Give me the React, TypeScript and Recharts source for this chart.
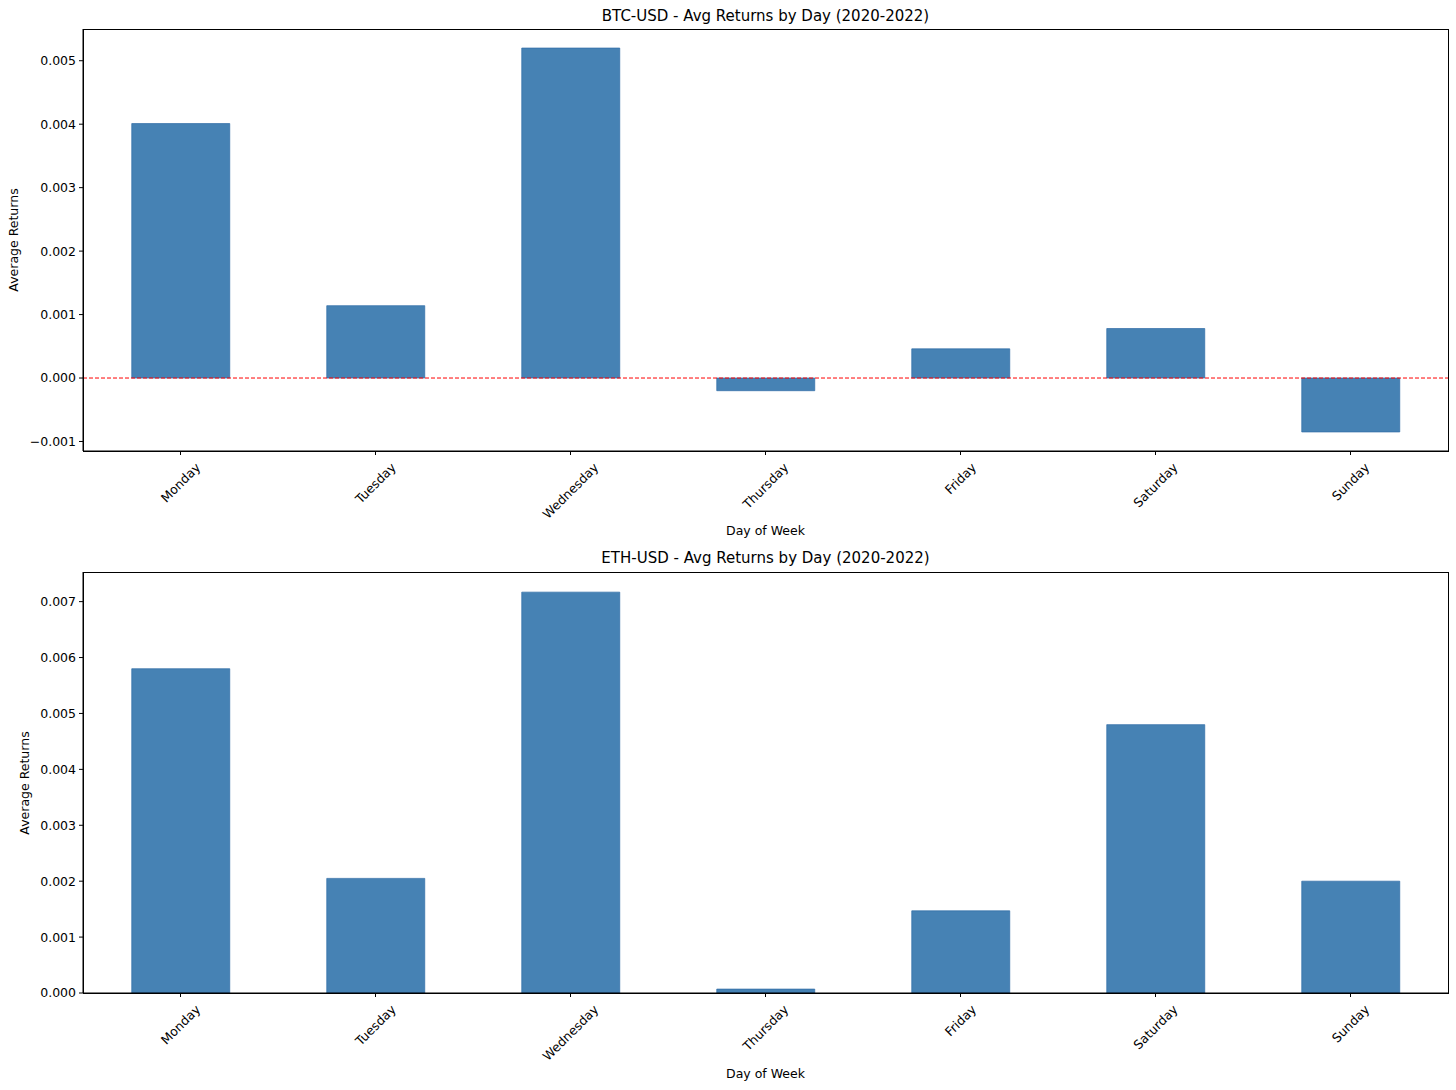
import React from "react";
import { Bar, BarChart, ReferenceLine, XAxis, YAxis } from "recharts";

const days = ["Monday", "Tuesday", "Wednesday", "Thursday", "Friday", "Saturday", "Sunday"];
const btcReturns = [0.00401, 0.00114, 0.0052, -0.0002, 0.00046, 0.00078, -0.00085];
const ethReturns = [0.0058, 0.00205, 0.00717, 0.00007, 0.00147, 0.0048, 0.002];
const btcTicks = [-0.001, 0, 0.001, 0.002, 0.003, 0.004, 0.005];
const ethTicks = [0, 0.001, 0.002, 0.003, 0.004, 0.005, 0.006, 0.007];

const FONT = '"DejaVu Sans", sans-serif';
const TICK_PX = 12.5;
const BAR_FILL = "#4682b4";
const BAR_EDGE = "#2f6ca6";

let ctx: CanvasRenderingContext2D | null = null;
function textWidth(s: string) {
  if (!ctx) ctx = document.createElement("canvas").getContext("2d");
  if (!ctx) return s.length * TICK_PX * 0.6;
  ctx.font = `${TICK_PX}px "DejaVu Sans"`;
  return ctx.measureText(s).width;
}

// matplotlib-like rotation=45, ha="center": bbox centred on the tick
const DayTick = (props: any) => {
  const { x, y, payload } = props;
  const w = textWidth(payload.value);
  const h = TICK_PX * 1.16;
  const cy = y + (w + h) / (2 * Math.SQRT2);
  return (
    <text
      x={x}
      y={cy}
      textAnchor="middle"
      dominantBaseline="central"
      transform={`rotate(-45, ${x}, ${cy})`}
      fontSize={TICK_PX}
      fontFamily={FONT}
      fill="#000"
    >
      {payload.value}
    </text>
  );
};

const fmt = (v: number) => {
  const s = Math.abs(v).toFixed(3);
  return v < -1e-12 ? `\u2212${s}` : s;
};

interface PanelProps {
  values: number[];
  ticks: number[];
  domain: [number, number];
  top: number;
  marginTop: number;
  xAxisHeight: number;
  title: string;
  titleY: number;
  yLabelX: number;
  xLabelY: number;
  zeroLine?: boolean;
}

function Panel({ values, ticks, domain, top, marginTop, xAxisHeight, title, titleY, yLabelX, xLabelY, zeroLine }: PanelProps) {
  const data = days.map((d, i) => ({ day: d, value: values[i] }));
  const height = 545;
  const plotTop = marginTop;
  const plotBottom = height - xAxisHeight;
  const plotLeft = 83;
  const plotRight = 1448;
  const textStyle: React.CSSProperties = {
    position: "absolute",
    fontFamily: FONT,
    color: "#000",
    whiteSpace: "nowrap",
    lineHeight: 1,
  };
  return (
    <div style={{ position: "absolute", left: 0, top, width: 1456, height }}>
      <BarChart
        width={1456}
        height={height}
        data={data}
        margin={{ top: marginTop, right: 1456 - plotRight, bottom: 0, left: 8 }}
        barCategoryGap="25%"
      >
        <XAxis
          dataKey="day"
          height={xAxisHeight}
          interval={0}
          tickSize={4}
          tickMargin={5}
          tick={<DayTick />}
          axisLine={{ stroke: "#000", strokeWidth: 1 }}
          tickLine={{ stroke: "#000", strokeWidth: 1 }}
        />
        <YAxis
          width={plotLeft - 8}
          domain={domain}
          ticks={ticks}
          allowDataOverflow
          interval={0}
          tickFormatter={fmt}
          tickSize={4}
          tickMargin={3}
          tick={{ fontSize: TICK_PX, fontFamily: FONT, fill: "#000" }}
          axisLine={{ stroke: "#000", strokeWidth: 1 }}
          tickLine={{ stroke: "#000", strokeWidth: 1 }}
        />
        <Bar dataKey="value" fill={BAR_FILL} stroke={BAR_EDGE} strokeWidth={0.7} isAnimationActive={false} />
        {zeroLine && <ReferenceLine y={0} stroke="#ff0000" strokeWidth={1} strokeDasharray="4 2" />}
      </BarChart>
      {/* axes frame (matplotlib draws all four spines) */}
      <div
        style={{
          position: "absolute",
          boxSizing: "border-box",
          left: plotLeft - 0.5,
          top: plotTop - 0.5,
          width: plotRight - plotLeft + 1,
          height: plotBottom - plotTop + 1,
          border: "1px solid #000",
          pointerEvents: "none",
        }}
      />
      <div style={{ ...textStyle, left: 765.5, top: titleY, transform: "translate(-50%, -50%)", fontSize: 15 }}>{title}</div>
      <div style={{ ...textStyle, left: 765.5, top: xLabelY, transform: "translate(-50%, -50%)", fontSize: TICK_PX }}>Day of Week</div>
      <div
        style={{
          ...textStyle,
          left: yLabelX,
          top: (plotTop + plotBottom) / 2,
          transform: "translate(-50%, -50%) rotate(-90deg)",
          fontSize: TICK_PX,
        }}
      >
        Average Returns
      </div>
    </div>
  );
}

export default function App() {
  return (
    <div style={{ position: "absolute", left: 0, top: 0, width: 1456, height: 1090, background: "#fff", overflow: "hidden" }}>
      <Panel
        values={btcReturns}
        ticks={btcTicks}
        domain={[-0.00115, 0.0055]}
        top={0}
        marginTop={29}
        xAxisHeight={94}
        title="BTC-USD - Avg Returns by Day (2020-2022)"
        titleY={16}
        yLabelX={14}
        xLabelY={531}
        zeroLine
      />
      <Panel
        values={ethReturns}
        ticks={ethTicks}
        domain={[0, 0.00753]}
        top={545}
        marginTop={27}
        xAxisHeight={97}
        title="ETH-USD - Avg Returns by Day (2020-2022)"
        titleY={13}
        yLabelX={25}
        xLabelY={529}
      />
    </div>
  );
}
